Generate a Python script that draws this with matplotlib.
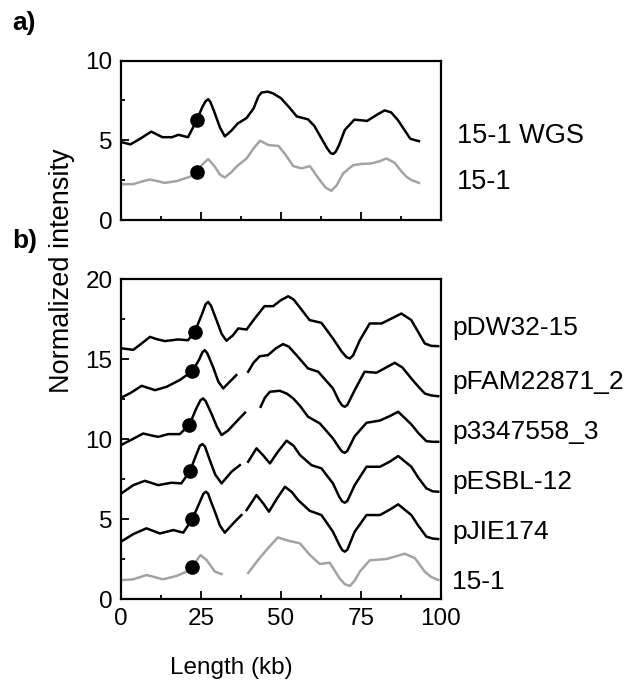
#!/usr/bin/env python3
"""Optical map intensity profiles: a) 15-1 vs WGS, b) 15-1 vs reference plasmids."""

import matplotlib

matplotlib.use("Agg")
import matplotlib.pyplot as plt
import numpy as np
from matplotlib.ticker import MultipleLocator

nan = np.nan

# ---- panel a ----
wgs_x = [0, 3, 6, 9.5, 13, 16, 18, 21, 23.7, 25.5, 26.5, 27.3, 28, 29, 31, 32.5, 34.5, 36.5, 39.3,
         41.5, 43, 44, 46, 47.5, 50, 52.5, 55, 58.5, 60.5, 62.5, 64.5, 65.6, 66.4, 67.2, 68.2, 70,
         73, 77, 80, 82.5, 84.5, 86.5, 88.5, 90.5, 93.2]
wgs_y = [4.9, 4.75, 5.1, 5.55, 5.2, 5.2, 5.35, 5.2, 6.25, 7.1, 7.45, 7.58, 7.4, 6.9, 5.8, 5.25,
         5.6, 6.05, 6.4, 7.0, 7.75, 8.0, 8.05, 7.95, 7.65, 7.1, 6.5, 6.32, 5.9, 5.2, 4.5, 4.2,
         4.15, 4.3, 4.7, 5.65, 6.3, 6.22, 6.6, 6.88, 6.75, 6.3, 5.7, 5.1, 4.95]
a151_x = [0, 3.8, 6.5, 9, 11.5, 13.7, 17.4, 21.6, 23.7, 25.5, 27.3, 29.4, 31, 32.5, 34.5, 36.1,
          39.3, 41.5, 43.5, 46.1, 49.3, 51.5, 53.9, 56.5, 59.1, 61, 62.2, 64, 65.8, 67.5, 69.5,
          72.6, 75, 78.3, 81, 83, 85.6, 87.5, 89.3, 91, 93.2]
a151_y = [2.26, 2.26, 2.42, 2.55, 2.45, 2.34, 2.45, 2.72, 3.05, 3.5, 3.83, 3.35, 2.85, 2.68, 3.0,
          3.35, 3.87, 4.5, 4.98, 4.71, 4.65, 4.1, 3.39, 3.25, 3.39, 2.85, 2.51, 2.05, 1.84, 2.2,
          2.93, 3.45, 3.52, 3.56, 3.7, 3.87, 3.6, 3.1, 2.72, 2.5, 2.34]
a_dot_x = [23.7, 23.7]
a_dot_y = [6.28, 3.05]
a_names = ["15-1 WGS", "15-1"]
a_name_y = [5.27, 2.39]

# ---- panel b ----
dw_x = [0, 3.9, 6.5, 9.1, 11.5, 13.8, 17.9, 21, 23.1, 25.3, 26.5, 27.3, 28.2, 29.9, 31.5, 33, 35,
        36.7, 39.3, 42, 44.9, 47.6, 50, 52.3, 54, 55.8, 59, 62.7, 66.3, 69, 70.5, 71.6, 72.6, 74.7,
        77.8, 81.5, 84.5, 87.7, 90.8, 93, 95, 97, 99.2]
dw_y = [15.7, 15.6, 16.0, 16.41, 16.25, 16.15, 16.25, 16.2, 16.73, 17.8, 18.45, 18.6, 18.35, 17.46,
        16.6, 16.17, 16.5, 16.94, 16.87, 17.6, 18.33, 18.33, 18.7, 18.95, 18.75, 18.29, 17.46,
        17.29, 16.31, 15.5, 15.15, 15.06, 15.25, 16.2, 17.25, 17.25, 17.55, 17.87, 17.46, 16.7,
        16.0, 15.85, 15.83]
fam_x = [0, 3, 6.5, 10.7, 14.3, 18.4, 22.4, 24.5, 25.5, 26.2, 27, 28.8, 30.5, 32, 34, 36.1, nan,
         39.8, 41.5, 43.4, 46, 48.5, 50.7, 52.5, 54.9, 58.5, 61.7, 66.3, 68.2, 69.2, 70, 70.8, 73.1,
         76.2, 79.9, 82.5, 85.6, 88, 90.8, 93, 95, 97, 99.2]
fam_y = [12.6, 12.9, 13.35, 13.08, 13.29, 13.71, 14.27, 15.0, 15.45, 15.58, 15.4, 14.54, 13.6,
         13.19, 13.6, 14.02, nan, 14.23, 14.8, 15.2, 15.27, 15.7, 15.96, 15.8, 15.27, 14.44, 14.23,
         13.19, 12.4, 12.12, 12.04, 12.15, 13.08, 14.23, 14.17, 14.45, 14.79, 14.5, 13.81, 13.3,
         12.87, 12.75, 12.7]
p33_x = [0, 3.5, 7, 9.5, 11.7, 14.8, 18.4, 21.4, 23.5, 24.9, 25.7, 26.5, 28.3, 30, 31.5, 33.5,
         35.6, 38.8, nan, 43.7, 45, 46.6, 49.7, 52, 53.9, 56, 58.5, 62.2, 66.3, 68.5, 69.3, 70,
         70.8, 73.1, 76.8, 81, 84, 86.7, 90.8, 93, 95.5, 97.5, 99.2]
p33_y = [9.64, 10.0, 10.37, 10.25, 10.16, 10.33, 10.33, 10.89, 11.9, 12.45, 12.56, 12.4, 11.62,
         10.8, 10.27, 10.55, 11.0, 11.67, nan, 12.04, 12.6, 12.98, 13.04, 12.85, 12.56, 12.1, 11.42,
         11.0, 10.06, 9.4, 9.22, 9.16, 9.28, 10.2, 11.04, 11.18, 11.45, 11.73, 10.94, 10.4, 9.89,
         9.85, 9.85]
esbl_x = [0, 3.9, 7.5, 11.7, 15.8, 18.9, 21.6, 23.5, 24.7, 25.5, 26.3, 27.8, 29.5, 31.5, 34.6, 37.2,
          nan, 39.8, 42.4, 44.5, 46.6, 49, 51.8, 54, 56, 59.6, 62.7, 66.3, 68.3, 69.2, 70, 70.8,
          73.1, 76.8, 81, 84, 86.7, 90.8, 93, 95.5, 97.5, 99.2]
esbl_y = [6.6, 7.14, 7.41, 7.14, 7.29, 7.25, 8.02, 9.0, 9.6, 9.71, 9.55, 8.71, 7.8, 7.25, 7.98,
          8.39, nan, 8.6, 9.44, 9.0, 8.5, 9.2, 9.92, 9.6, 9.02, 8.39, 8.19, 7.25, 6.4, 6.12, 6.04,
          6.15, 7.14, 8.29, 8.29, 8.6, 8.96, 8.29, 7.6, 6.94, 6.75, 6.73]
jie_x = [0, 3.9, 8, 12.2, 16.4, 19.5, 22.3, 24.5, 25.8, 26.6, 27.3, 28, 29.4, 31, 32.5, 35.6, 37.7,
         nan, 39.3, 42.4, 44.5, 46.3, 48.8, 51.3, 53.5, 55.4, 59, 62.7, 66.3, 68.3, 69.2, 70, 70.8,
         73.1, 76.8, 81, 84, 86.7, 90.8, 93, 95.5, 97.5, 99.2]
jie_y = [3.6, 4.08, 4.44, 4.12, 4.33, 4.17, 5.0, 6.0, 6.6, 6.73, 6.6, 6.2, 5.48, 4.6, 4.17, 4.85,
         5.27, nan, 5.58, 6.52, 6.0, 5.48, 6.3, 7.04, 6.7, 6.21, 5.54, 5.27, 4.23, 3.4, 3.08, 2.98,
         3.1, 4.23, 5.27, 5.27, 5.6, 5.94, 5.27, 4.6, 3.92, 3.8, 3.77]
b151_x = [0, 3.9, 8, 13.2, 17.4, 20.5, 22.4, 24.9, 26.8, 29.4, 31.5, nan, 39.8, 42.9, 45.5, 49.1,
          52.3, 56, 59.1, 62.2, 65.3, 68.4, 70, 71.6, 73.2, 74.7, 77.8, 83, 88.7, 91.9, 95, 97, 99.2]
b151_y = [1.2, 1.25, 1.52, 1.25, 1.46, 1.73, 2.04, 2.77, 2.46, 1.73, 1.58, nan, 1.65, 2.46, 3.08,
          3.87, 3.67, 3.5, 2.77, 2.21, 2.29, 1.31, 0.95, 0.83, 1.2, 1.73, 2.44, 2.52, 2.85, 2.58,
          1.73, 1.4, 1.21]
b_dot_x = [23.1, 22.4, 21.4, 21.6, 22.3, 22.4]
b_dot_y = [16.73, 14.27, 10.89, 8.02, 5.0, 2.04]
b_names = ["pDW32-15", "pFAM22871_2", "p3347558_3", "pESBL-12", "pJIE174", "15-1"]
b_name_y = [16.96, 13.58, 10.46, 7.35, 4.22, 1.1]

GRAY = "#a3a3a3"
LW = 1.8
plt.rcParams["font.family"] = ["Liberation Sans", "DejaVu Sans"]
plt.rcParams["lines.solid_joinstyle"] = "round"

fig = plt.figure(figsize=(6.36, 6.84), dpi=100)
ax_a = fig.add_axes([0.190, 0.678, 0.503, 0.2335])
ax_b = fig.add_axes([0.190, 0.1238, 0.503, 0.4676])

ax_a.plot(wgs_x, wgs_y, color="black", lw=LW)
ax_a.plot(a151_x, a151_y, color=GRAY, lw=LW)
ax_a.plot(a_dot_x, a_dot_y, "o", color="black", ms=9.5, zorder=5)
for name, yy in zip(a_names, a_name_y):
    ax_a.text(105, yy, name, fontsize=19.5, va="center", ha="left", clip_on=False)

for xs, ys in [(dw_x, dw_y), (fam_x, fam_y), (p33_x, p33_y), (esbl_x, esbl_y), (jie_x, jie_y)]:
    ax_b.plot(xs, ys, color="black", lw=LW)
ax_b.plot(b151_x, b151_y, color=GRAY, lw=LW)
ax_b.plot(b_dot_x, b_dot_y, "o", color="black", ms=9.5, zorder=5)
for name, yy in zip(b_names, b_name_y):
    ax_b.text(103.6, yy, name, fontsize=19, va="center", ha="left", clip_on=False)

ax_a.set_ylim(0, 10)
ax_b.set_ylim(0, 20)
for ax in (ax_a, ax_b):
    ax.set_xlim(0, 100)
    ax.xaxis.set_major_locator(MultipleLocator(25))
    ax.xaxis.set_minor_locator(MultipleLocator(12.5))
    ax.yaxis.set_major_locator(MultipleLocator(5))
    ax.yaxis.set_minor_locator(MultipleLocator(2.5))
    ax.tick_params(which="major", direction="in", length=6, width=1.3, labelsize=17.5, pad=6)
    ax.tick_params(which="minor", direction="in", length=3, width=1.3)
    for sp in ax.spines.values():
        sp.set_linewidth(1.6)
ax_a.tick_params(labelbottom=False)

fig.text(0.363, 0.023, "Length (kb)", fontsize=17.5, ha="center", va="center")
fig.text(0.097, 0.604, "Normalized intensity", rotation=90, fontsize=19.5, ha="center", va="center")
fig.text(0.02, 0.966, "a)", fontsize=19, fontweight="bold", ha="left", va="center")
fig.text(0.02, 0.648, "b)", fontsize=19, fontweight="bold", ha="left", va="center")

fig.savefig("out.png", dpi=100)
plt.close(fig)
